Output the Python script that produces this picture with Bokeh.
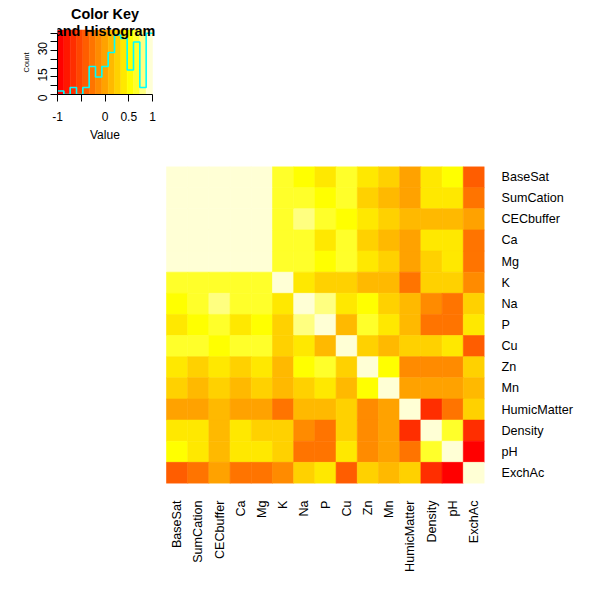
import math
import numpy as np
from bokeh.plotting import figure
from bokeh.models import Range1d, FixedTicker, Label, FactorRange, ColumnDataSource, Title
from bokeh.layouts import column
from bokeh.embed import file_html
from bokeh.resources import INLINE

FONT = "Liberation Sans"

variables = ["BaseSat", "SumCation", "CECbuffer", "Ca", "Mg", "K", "Na", "P",
             "Cu", "Zn", "Mn", "HumicMatter", "Density", "pH", "ExchAc"]

# Correlations above the diagonal, one list per variable (partners follow in order)
upper_basesat = [0.97, 0.90, 0.96, 0.94, 0.68, 0.52, 0.38, 0.64, 0.41, 0.27, -0.02, 0.39, 0.55, -0.42]
upper_sumcation = [0.95, 0.99, 0.96, 0.71, 0.62, 0.49, 0.66, 0.24, 0.12, 0.03, 0.44, 0.36, -0.29]
upper_cecbuffer = [0.93, 0.91, 0.65, 0.75, 0.61, 0.50, 0.37, 0.22, 0.09, 0.10, 0.14, -0.05]
upper_ca = [0.95, 0.69, 0.63, 0.35, 0.67, 0.25, 0.11, -0.04, 0.42, 0.40, -0.31]
upper_mg = [0.66, 0.64, 0.48, 0.62, 0.37, 0.26, 0.01, 0.29, 0.45, -0.27]
upper_k = [0.43, 0.30, 0.23, 0.15, 0.08, -0.28, 0.21, 0.26, -0.18]
upper_na = [0.78, 0.39, 0.51, 0.27, 0.12, -0.15, -0.26, 0.25]
upper_p = [0.10, 0.63, 0.41, 0.09, -0.30, -0.22, 0.36]
upper_cu = [0.28, 0.13, 0.24, 0.22, 0.38, -0.44]
upper_zn = [0.57, -0.12, -0.16, -0.14, 0.23]
upper_mn = [-0.01, -0.03, 0.02, 0.11]
upper_humic = [-0.69, -0.24, 0.21]
upper_density = [0.64, -0.66]
upper_ph = [-0.91]

upper_rows = [upper_basesat, upper_sumcation, upper_cecbuffer, upper_ca, upper_mg,
              upper_k, upper_na, upper_p, upper_cu, upper_zn, upper_mn,
              upper_humic, upper_density, upper_ph, []]

# heat.colors(15), red (-1) through pale yellow (+1)
palette = ["#FF0000", "#FF1700", "#FF2E00", "#FF4600", "#FF5D00", "#FF7400",
           "#FF8B00", "#FFA200", "#FFB900", "#FFD100", "#FFE800", "#FFFF00",
           "#FFFF2A", "#FFFF80", "#FFFFD5"]

# symmetric correlation matrix with unit diagonal
n = len(variables)
corr = np.eye(n)
for i, row in enumerate(upper_rows):
    for k, v in enumerate(row):
        j = i + 1 + k
        corr[i, j] = v
        corr[j, i] = v

breaks = np.linspace(-1, 1, len(palette) + 1)
bin_index = np.clip(np.searchsorted(breaks, corr, side="left") - 1, 0, len(palette) - 1)
counts = np.bincount(bin_index.ravel(), minlength=len(palette))
cmax = int(counts.max())
y_top = cmax / 0.95

# Both panels share the same left/right borders (57 px / 128 px); each one
# stretches its x range so that its own content sits where it should.
LEFT, RIGHT, FRAME_W = 57, 128, 427

# ---- colour key with histogram ----
KEY_W_PX = 95.0            # pixel width of the -1..1 key strip
KEY_H_PX = 64.5            # pixel height of the key strip
KEY_FRAME_H = 94
key_px_per_unit = KEY_W_PX / 2.0
counts_per_px = y_top / KEY_H_PX

key = figure(width=612, height=160, frame_width=FRAME_W, frame_height=KEY_FRAME_H,
             x_range=Range1d(-1, -1 + FRAME_W / key_px_per_unit),
             y_range=Range1d(0, KEY_FRAME_H * counts_per_px),
             output_backend="svg", toolbar_location=None,
             min_border_left=LEFT, min_border_right=RIGHT, min_border_top=0,
             min_border_bottom=160 - KEY_FRAME_H)
key.outline_line_color = None
key.grid.visible = False
key.quad(left=breaks[:-1], right=breaks[1:], bottom=0, top=y_top,
         fill_color=palette, line_color=palette, line_width=0.5)
key.step(x=breaks, y=np.append(counts, counts[-1]), mode="after",
         line_color="#00FFFF", line_width=1.6)

kx = key.xaxis[0]
kx.bounds = (-1, 1)
kx.ticker = FixedTicker(ticks=[-1, -0.5, 0, 0.5, 1])
kx.major_label_overrides = {-1: "-1", -0.5: ""}
kx.major_label_text_font = FONT
kx.major_label_text_font_size = "12px"
kx.major_label_text_color = "black"
kx.major_label_standoff = 10
kx.major_tick_in = 0
kx.major_tick_out = 7
kx.minor_tick_line_color = None
kx.axis_line_color = "black"
kx.major_tick_line_color = "black"

ky = key.yaxis[0]
ky.bounds = (0, cmax)
ky.ticker = FixedTicker(ticks=list(range(0, cmax + 1, 5)))
ky.major_label_overrides = {t: "" for t in range(0, cmax + 1, 5) if t not in (0, 15, 30)}
ky.major_label_orientation = math.pi / 2
ky.major_label_text_font = FONT
ky.major_label_text_font_size = "12px"
ky.major_label_text_color = "black"
ky.major_label_standoff = 8
ky.major_tick_in = 0
ky.major_tick_out = 7
ky.minor_tick_line_color = None
ky.axis_line_color = "black"
ky.major_tick_line_color = "black"

# axis titles of the key, centred on the strip rather than on the whole panel
key.add_layout(Title(text="Value", align="left", offset=32.5, standoff=4,
                     text_font=FONT, text_font_style="normal", text_font_size="12px",
                     text_color="black"), "below")
key.add_layout(Title(text="Count", align="left", offset=22, standoff=0,
                     text_font=FONT, text_font_style="normal", text_font_size="7.5px",
                     text_color="black"), "left")

# two-line bold key title, centred over the strip
for txt, px_above in (("Color Key", 80.5), ("and Histogram", 63.5)):
    key.add_layout(Label(x=0, y=px_above * counts_per_px, text=txt,
                         text_align="center", text_baseline="alphabetic",
                         text_font=FONT, text_font_style="bold", text_font_size="14.4px",
                         text_color="black"))

# ---- correlation heatmap ----
CELL_PX = 318 / n
heat = figure(width=612, height=452, frame_width=FRAME_W, frame_height=317,
              x_range=Range1d(n - FRAME_W / CELL_PX, n),
              y_range=FactorRange(factors=variables[::-1]),
              y_axis_location="right",
              output_backend="svg", toolbar_location=None,
              min_border_left=LEFT, min_border_right=RIGHT, min_border_top=6, min_border_bottom=129)
heat.outline_line_color = None
heat.grid.visible = False

xs, ys, cols = [], [], []
for i, rname in enumerate(variables):
    for j, cname in enumerate(variables):
        xs.append(j + 0.5)
        ys.append(rname)
        cols.append(palette[bin_index[i, j]])
src = ColumnDataSource(dict(x=xs, y=ys, color=cols))
heat.rect(x="x", y="y", width=1, height=1, source=src,
          fill_color="color", line_color="color", line_width=0.6)

hx = heat.xaxis[0]
hx.ticker = FixedTicker(ticks=[j + 0.5 for j in range(n)])
hx.major_label_overrides = {j + 0.5: name for j, name in enumerate(variables)}
hx.major_label_orientation = math.pi / 2

for ax in (hx, heat.yaxis[0]):
    ax.axis_line_color = None
    ax.major_tick_line_color = None
    ax.minor_tick_line_color = None
    ax.major_tick_in = 0
    ax.major_tick_out = 0
    ax.major_label_standoff = 17
    ax.major_label_text_font = FONT
    ax.major_label_text_font_size = "12.6px"
    ax.major_label_text_color = "black"

layout = column(key, heat, spacing=0)
open("out.html", "w").write(file_html(layout, INLINE))
